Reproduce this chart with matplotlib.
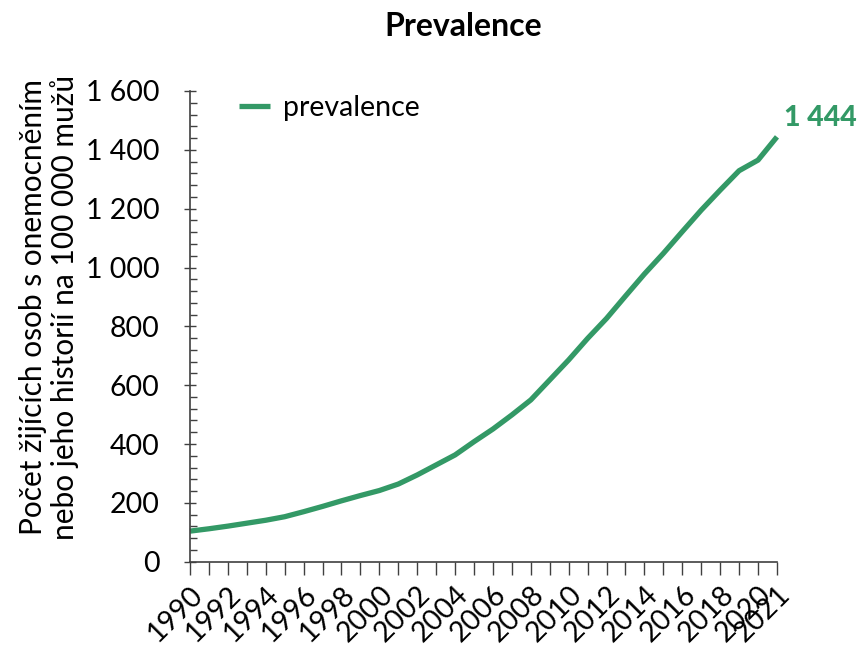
import matplotlib
matplotlib.use('Agg')
import matplotlib.pyplot as plt
from matplotlib.ticker import MultipleLocator

plt.rcParams['font.family'] = ['Lato', 'DejaVu Sans']

# data
years = list(range(1990, 2022))
prevalence = [104, 112, 121, 131, 141, 153, 170, 188, 207, 225,
              242, 264, 295, 329, 363, 408, 451, 499, 550, 618,
              686, 759, 827, 903, 978, 1048, 1122, 1195, 1263, 1329,
              1365, 1444]
y_ticks = [0, 200, 400, 600, 800, 1000, 1200, 1400, 1600]
y_ticklabels = ['0', '200', '400', '600', '800', '1 000', '1 200', '1 400', '1 600']
x_ticklabels = [str(y) if (y % 2 == 0 or y == 2021) else '' for y in years]
last_label = '1 444'

GREEN = '#339966'
AXC = '#404040'
FS = 20.5

fig = plt.figure(figsize=(8.61, 6.47), dpi=100)
fig.patch.set_facecolor('white')
ax = fig.add_axes([0.2207, 0.1318, 0.6817, 0.7276])

ax.plot(years, prevalence, color=GREEN, linewidth=3.8, label='prevalence',
        solid_capstyle='butt', clip_on=False)
ax.annotate(last_label, (years[-1], prevalence[-1]), xytext=(5, 4),
            textcoords='offset points', color=GREEN, fontsize=FS,
            fontweight='black', ha='left', va='bottom')

ax.set_xlim(years[0], years[-1])
ax.set_ylim(0, 1600)

ax.set_yticks(y_ticks)
ax.set_yticklabels(y_ticklabels, fontsize=FS)
ax.yaxis.set_minor_locator(MultipleLocator(40))
ax.tick_params(axis='y', which='major', direction='inout', length=8,
               width=1, color=AXC, pad=18)
ax.tick_params(axis='y', which='minor', direction='in', length=5,
               width=1, color=AXC)

ax.set_xticks(years)
ax.set_xticklabels(x_ticklabels, fontsize=FS, rotation=45,
                   ha='right', rotation_mode='anchor')
ax.tick_params(axis='x', which='major', direction='out', length=9,
               width=1, color=AXC, pad=5)

for s in ['top', 'right']:
    ax.spines[s].set_visible(False)
for s in ['left', 'bottom']:
    ax.spines[s].set_color(AXC)
    ax.spines[s].set_linewidth(1.2)

fig.text(0.057, 0.525,
         'Počet žijících osob s onemocněním\nnebo jeho historií na 100 000 mužů',
         rotation=90, ha='center', va='center', fontsize=21.5, linespacing=1.1)

fig.suptitle('Prevalence', x=0.538, y=0.982, fontsize=23, fontweight='bold')

leg = ax.legend(loc='upper left', bbox_to_anchor=(0.04, 1.045), frameon=False,
                fontsize=FS, handlelength=1.1, handletextpad=0.45)

fig.savefig('out.png', dpi=100, facecolor='white')
